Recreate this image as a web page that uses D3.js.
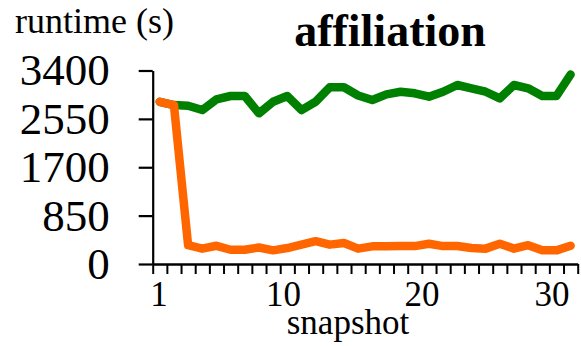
<!DOCTYPE html>
<html><head><meta charset="utf-8">
<script src="https://cdn.jsdelivr.net/npm/d3@7"></script>
<style>
body{margin:0;background:#fff;}
svg{display:block;}
text{font-family:"Liberation Serif","Times New Roman",serif;fill:#000;}
</style></head>
<body>
<script>
const snapshots = d3.range(1, 31);
const seriesGreen = [2850,2793,2781,2705,2893,2952,2952,2647,2851,2952,2705,2851,3105,3105,2960,2881,2981,3027,2999,2939,3027,3145,3087,3027,2911,3145,3087,2952,2952,3330];
const seriesOrange = [2850,2790,330,270,320,250,250,290,240,280,340,400,340,370,270,310,310,315,315,355,315,315,280,270,355,270,330,240,240,320];
const yTicks = [0,850,1700,2550,3400];
const xTickLabels = [1,10,20,30];
const title = "affiliation";
const yTitle = "runtime (s)";
const xTitle = "snapshot";

const W = 581, H = 346;
const svg = d3.select("body").append("svg").attr("width", W).attr("height", H);

const x = d3.scaleLinear().domain([0.5, 30.5]).range([152.7, 577.7]);
const y = d3.scaleLinear().domain([0, 3400]).range([264, 70.5]);
const xLabel = d3.scaleLinear().domain([1, 20, 30]).range([159, 422, 552]);

// y axis
const gy = svg.append("g").attr("transform", `translate(${x(0.5)},0)`)
  .call(d3.axisLeft(y).tickValues(yTicks).tickSize(14).tickSizeOuter(0).tickPadding(29).tickFormat(d3.format("d")));
gy.selectAll("path,line").attr("stroke", "#000").attr("stroke-width", 2.2);
gy.selectAll("text").attr("font-size", 45).attr("font-family", "Liberation Serif").attr("fill", "#000");

// x axis
const gx = svg.append("g").attr("transform", `translate(0,${y(0)})`)
  .call(d3.axisBottom(x).tickValues(d3.range(0.5, 31, 1)).tickSize(10).tickSizeOuter(0).tickFormat(""));
gx.selectAll("path,line").attr("stroke", "#000").attr("stroke-width", 2);
gx.select("path").attr("stroke-width", 2.6);

// x tick labels
svg.append("g").selectAll("text").data(xTickLabels).join("text")
  .attr("x", d => xLabel(d)).attr("y", 306)
  .attr("text-anchor", "middle").attr("font-size", 35).text(d => d);

// lines
const line = vals => d3.line().x((d, i) => x(snapshots[i])).y(d => y(d))(vals);
svg.append("path").attr("d", line(seriesGreen)).attr("fill", "none")
  .attr("stroke", "#008000").attr("stroke-width", 8.5).attr("stroke-linejoin", "round").attr("stroke-linecap", "round");
svg.append("path").attr("d", line(seriesOrange)).attr("fill", "none")
  .attr("stroke", "#ff6600").attr("stroke-width", 8.5).attr("stroke-linejoin", "round").attr("stroke-linecap", "round");

// titles
svg.append("text").attr("x", 390).attr("y", 46).attr("text-anchor", "middle")
  .attr("font-size", 46).attr("font-weight", "bold").text(title);
svg.append("text").attr("x", 15).attr("y", 33).attr("font-size", 36).text(yTitle);
svg.append("text").attr("x", 348).attr("y", 334).attr("text-anchor", "middle")
  .attr("font-size", 35).text(xTitle);
</script>
</body></html>
